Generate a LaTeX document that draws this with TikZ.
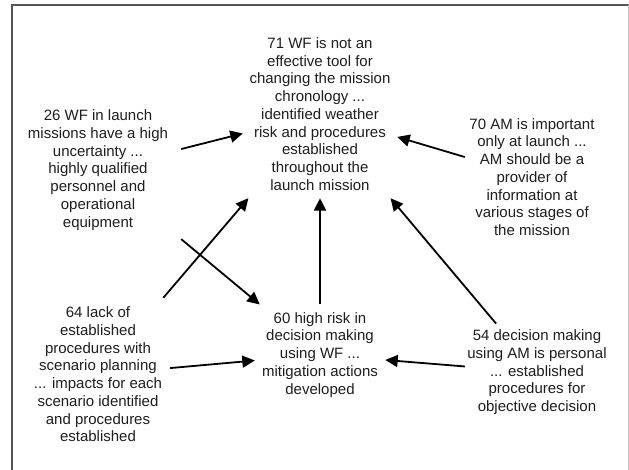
\documentclass[tikz,border=0pt]{standalone}
\usepackage{fontspec}
\setmainfont{Liberation Sans}
\usetikzlibrary{arrows.meta}
\definecolor{inktext}{HTML}{1E1E1E}
\definecolor{framedark}{HTML}{555555}
\definecolor{framelight}{HTML}{C4C4C4}
\tikzset{
  concept/.style={rectangle, inner sep=0pt, align=center, text=inktext,
    font=\fontsize{15}{17.75}\selectfont},
  link/.style={line width=1.8pt, draw=black,
    -{Triangle[length=12.5pt, width=12pt]}},
}
\begin{document}
\begin{tikzpicture}[x=1pt, y=-1pt]
  \useasboundingbox (0,0) rectangle (629,470);
  \fill[white] (0,0) rectangle (629,470);
  % picture frame
  \draw[framedark, line width=1.6pt] (12,470) -- (12,5) -- (629,5);
  \draw[framelight, line width=1pt] (628.3,5) -- (628.3,470);

  % concepts
  \node[concept, minimum width=154pt, minimum height=168pt] (n71) at (320,114)
    {71 WF is not an\\effective tool for\\changing the mission\\chronology ...\\identified weather\\risk and procedures\\established\\throughout the\\launch mission};
  \node[concept, minimum width=166pt, minimum height=140pt] (n26) at (98,170)
    {26 WF in launch\\missions have a high\\uncertainty ...\\highly qualified\\personnel and\\operational\\equipment};
  \node[concept, minimum width=134pt, minimum height=130pt] (n70) at (532,177)
    {70 AM is important\\only at launch ...\\AM should be a\\provider of\\information at\\various stages of\\the mission};
  \node[concept, minimum width=144pt, minimum height=153pt] (n64) at (98,374.5)
    {64 lack of\\established\\procedures with\\scenario planning\\... impacts for each\\scenario identified\\and procedures\\established};
  \node[concept, minimum width=130pt, minimum height=100pt] (n60) at (320,354.7)
    {60 high risk in\\decision making\\using WF ...\\mitigation actions\\developed};
  \node[concept, minimum width=144pt, minimum height=97pt] (n54) at (537,372.3)
    {54 decision making\\using AM is personal\\... established\\procedures for\\objective decision};

  % links
  \draw[link] (n26) -- (n71);
  \draw[link] (n70) -- (n71);
  \draw[link] (n64) -- (n71);
  \draw[link] (n60) -- (n71);
  \draw[link] (n54) -- (n71);
  \draw[link] (n26) -- (n60);
  \draw[link] (n64) -- (n60);
  \draw[link] (n54) -- (n60);
\end{tikzpicture}
\end{document}
